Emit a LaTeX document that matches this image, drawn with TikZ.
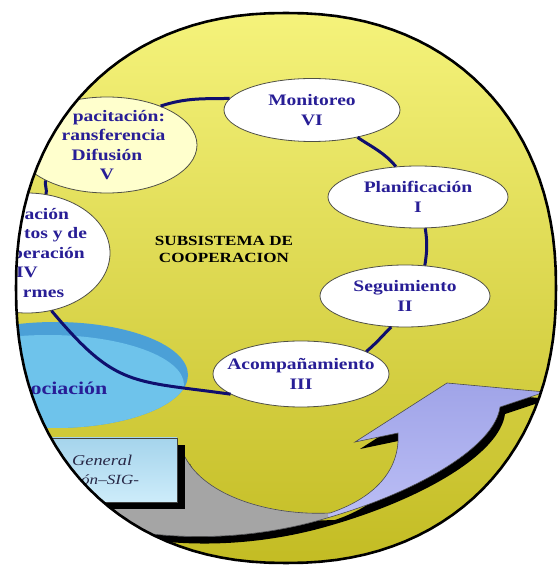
\documentclass[tikz,border=0pt]{standalone}
\usepackage{fontspec}
\usepackage{xcolor}
\usepackage{tikz}
\usetikzlibrary{shapes.geometric}

\newfontfamily\diagfont[FakeStretch=1.22]{Liberation Serif}

\definecolor{tinta}{RGB}{40,30,150}
\definecolor{azulanillo}{RGB}{15,15,110}
\definecolor{bordegris}{RGB}{80,80,70}
\definecolor{amarilloA}{RGB}{246,244,125}
\definecolor{amarilloB}{RGB}{230,228,70}
\definecolor{amarilloC}{RGB}{195,188,35}
\definecolor{cremita}{RGB}{255,255,205}
\definecolor{celesteA}{RGB}{75,160,215}
\definecolor{celesteB}{RGB}{110,195,235}
\definecolor{lilaA}{RGB}{160,164,232}
\definecolor{lilaB}{RGB}{192,195,248}
\definecolor{gris}{RGB}{165,165,165}
\definecolor{cajaA}{RGB}{165,212,236}
\definecolor{cajaB}{RGB}{205,236,250}
\definecolor{grisTexto}{RGB}{40,40,70}

% contorno recortado de la imagen
\newcommand\contorno{plot[domain=0:357,samples=120] ({286+270*sign(cos(\x))*(abs(cos(\x))+0.00001)^0.909},{278+275*sign(sin(\x))*(abs(sin(\x))+0.00001)^0.909}) -- cycle}
% flecha curva gris/lila
\newcommand\flecha{(100,41) .. controls (180,22) and (260,28) .. (327,48) .. controls (420,75) and (495,120) .. (500,159) -- (545,174) -- (447,183) -- (355,124) -- (398,133) .. controls (400,100) and (380,70) .. (330,53) .. controls (270,50) and (205,70) .. (185,109) -- (150,118) -- (60,100) -- cycle}

\begin{document}
\begin{tikzpicture}[x=1pt,y=1pt]
      % Definición de estilos
      \tikzstyle{etapa}=[ellipse, draw=bordegris, line width=0.8pt, fill=white, inner xsep=-30pt, inner ysep=-6pt, text=tinta, align=center, font=\diagfont\bfseries\fontsize{16}{19.5}\selectfont]
      \tikzstyle{anillo}=[draw=azulanillo, line width=3pt]
      \tikzstyle{caja}=[rectangle, draw=black!75, line width=0.6pt, top color=cajaA, bottom color=cajaB]
      \tikzstyle{sigtxt}=[anchor=west, inner sep=0pt, text=grisTexto, font=\diagfont\itshape\fontsize{15}{18}\selectfont]
      \tikzstyle{titulo}=[align=center, text=black, font=\diagfont\bfseries\fontsize{14}{17}\selectfont]
      \tikzstyle{textoaso}=[text=tinta, font=\diagfont\bfseries\fontsize{18}{21}\selectfont]

      \fill[white] (0,0) rectangle (558,566);
      \useasboundingbox (0,0) rectangle (558,566);

      \begin{scope}
      \clip \contorno;
      \shade[top color=amarilloA, middle color=amarilloB, bottom color=amarilloC] (0,0) rectangle (558,566);

      % Asociación
      \fill[celesteA] (55,191) ellipse [x radius=133pt, y radius=53pt];
      \begin{scope}
        \clip (55,191) ellipse [x radius=133pt, y radius=53pt];
        \fill[celesteB] (48,181) ellipse [x radius=136pt, y radius=50pt];
      \end{scope}
      \node[textoaso] (aso) at (69,178) {ociación};

      % Flecha
      \fill[black, shift={(5,-7)}] \flecha;
      \shade[top color=lilaA, bottom color=lilaB] \flecha;
      \begin{scope}
        \clip (0,0) rectangle (328,566);
        \fill[gris] \flecha;
      \end{scope}
      \draw[draw=black!70, line width=0.6pt] \flecha;

      % Caja SIG
      \fill[black] (-75,57) rectangle (185,121);
      \node[caja, minimum width=260pt, minimum height=64pt] (sig) at (47,96) {};
      \node[sigtxt] (sigA) at (72,106) {General};
      \node[sigtxt, font=\diagfont\itshape\fontsize{14}{17}\selectfont] (sigB) at (81,86) {ón–SIG-};

      % Etapas del ciclo
      \node[etapa, minimum width=176pt, minimum height=63pt] (mon) at (312,456) {Monitoreo\\VI};
      \node[etapa, minimum width=180pt, minimum height=62pt] (pla) at (418,369) {Planificación\\I};
      \node[etapa, minimum width=170pt, minimum height=62pt] (seg) at (405,270) {Seguimiento\\II};
      \node[etapa, minimum width=176pt, minimum height=66pt] (aco) at (301,192) {Acompañamiento\\III};
      \node[etapa, fill=cremita, minimum width=180pt, minimum height=96pt] (cap) at (107,421) {\phantom{Ca}pacitación:\\\phantom{T}ransferencia\\Difusión\\V};
      \node[etapa, minimum width=166pt, minimum height=120pt] (inf) at (27,313) {\hspace*{39.5pt}ación\\\hspace*{57pt}tos y de\\\hspace*{43pt}peración\\IV\\\hspace*{33pt}rmes};

      % Conexiones
      \draw[anillo] (cap.36) to[out=18,in=181] (mon.172);
      \draw[anillo] (mon.-31) to[out=-34,in=130] (pla.126);
      \draw[anillo] (pla.-77) to[out=-81,in=81] (seg.57);
      \draw[anillo] (seg.-114) to[out=225,in=40] (aco.19);
      \draw[anillo] (aco.196) to[out=172,in=-50,looseness=1.3] (inf.-67);
      \draw[anillo] (inf.72) to[out=78,in=260] (cap.210);

      \node[titulo] (sub) at (224,317) {SUBSISTEMA DE\\COOPERACION};
      \end{scope}

      \draw[line width=2.6pt] \contorno;
    \end{tikzpicture}
\end{document}
